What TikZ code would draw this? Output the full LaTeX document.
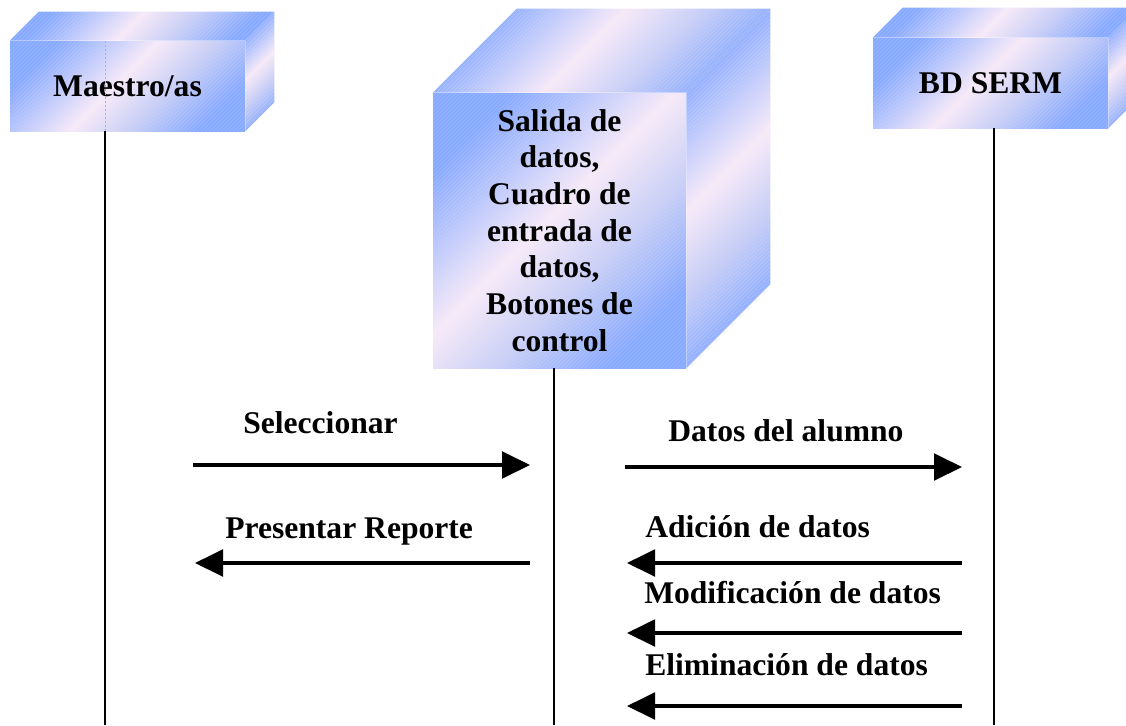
\documentclass[tikz,border=0pt]{standalone}
\usepackage{fontspec}
\setmainfont{Liberation Serif}
\usetikzlibrary{arrows.meta, positioning, calc, patterns}
\definecolor{cubeblue}{RGB}{136,170,255}
\definecolor{cubepink}{RGB}{246,233,248}
\definecolor{cubelav}{RGB}{200,206,246}
\pgfdeclarehorizontalshading{cubeshade}{100bp}{color(0bp)=(cubeblue); color(25bp)=(cubeblue); color(47bp)=(cubepink); color(60bp)=(cubelav); color(75bp)=(cubeblue); color(100bp)=(cubeblue)}
\tikzset{
    cubeface/.style={shade, shading=cubeshade, shading angle=-45, postaction={pattern=north east lines, pattern color=white, opacity=0.15}},
    cube/.style={rectangle, cubeface, inner sep=0pt, align=center, font=\fontsize{23.7}{27.5}\selectfont\bfseries},
    lifeline/.style={line width=1.5pt},
    arrow/.style={-{Triangle[length=21pt, width=20pt]}, line width=2.4pt},
    msg/.style={anchor=base west, inner sep=0pt, font=\fontsize{23.7}{27.5}\selectfont\bfseries},
}

\begin{document}
\begin{tikzpicture}[x=0.75pt, y=-0.75pt]
    \useasboundingbox (0,0) rectangle (1126,725);
    \clip (0,0) rectangle (1126,725);
    % objetos
    \node[cube, minimum width=176.25pt, minimum height=67.5pt] (maestro) at (127.5,86) {Maestro/as};
    \node[cube, minimum width=189.75pt, minimum height=206.25pt] (interfaz) at (559.5,230.5) {Salida de\\datos,\\Cuadro de\\entrada de\\datos,\\Botones de\\control};
    \node[cube, minimum width=176.25pt, minimum height=67.5pt] (bd) at (990.5,83) {BD SERM};
    \foreach \n/\d in {maestro/29, interfaz/84, bd/30} {
        \path[cubeface] (\n.north west) -- ++(\d,-\d) -- ($(\n.north east)+(\d,-\d)$) -- (\n.north east) -- cycle;
        \path[cubeface] (\n.north east) -- ++(\d,-\d) -- ($(\n.south east)+(\d,-\d)$) -- (\n.south east) -- cycle;
    }
    % lineas de vida
    \coordinate (mEnd) at (105,725);
    \coordinate (iEnd) at (554,725);
    \coordinate (bEnd) at (994,725);
    \draw[gray!60, line width=0.4pt, dash pattern=on 1.5pt off 1.5pt] (mEnd |- maestro.north) -- (mEnd |- maestro.south);
    \draw[lifeline] (mEnd |- maestro.south) -- (mEnd);
    \draw[lifeline] (iEnd |- interfaz.south) -- (iEnd);
    \draw[lifeline] (bEnd |- bd.south) -- (bEnd);
    % mensajes
    \coordinate (selA) at (193,465);  \coordinate (selB) at (530,465);
    \coordinate (repA) at (530,563);  \coordinate (repB) at (195,563);
    \coordinate (datA) at (625,467);  \coordinate (datB) at (962,467);
    \coordinate (addA) at (962,563);  \coordinate (addB) at (627,563);
    \coordinate (modA) at (962,633);  \coordinate (modB) at (627,633);
    \coordinate (eliA) at (962,706);  \coordinate (eliB) at (627,706);
    \draw[arrow] (selA) -- (selB);
    \draw[arrow] (repA) -- (repB);
    \draw[arrow] (datA) -- (datB);
    \draw[arrow] (addA) -- (addB);
    \draw[arrow] (modA) -- (modB);
    \draw[arrow] (eliA) -- (eliB);
    \node[msg] (lSel) at (243,433) {Seleccionar};
    \node[msg] (lRep) at (225,538) {Presentar Reporte};
    \node[msg] (lDat) at (668,441) {Datos del alumno};
    \node[msg] (lAdd) at (645,537) {Adición de datos};
    \node[msg] (lMod) at (644,603) {Modificación de datos};
    \node[msg] (lEli) at (645,675) {Eliminación de datos};
\end{tikzpicture}
\end{document}
